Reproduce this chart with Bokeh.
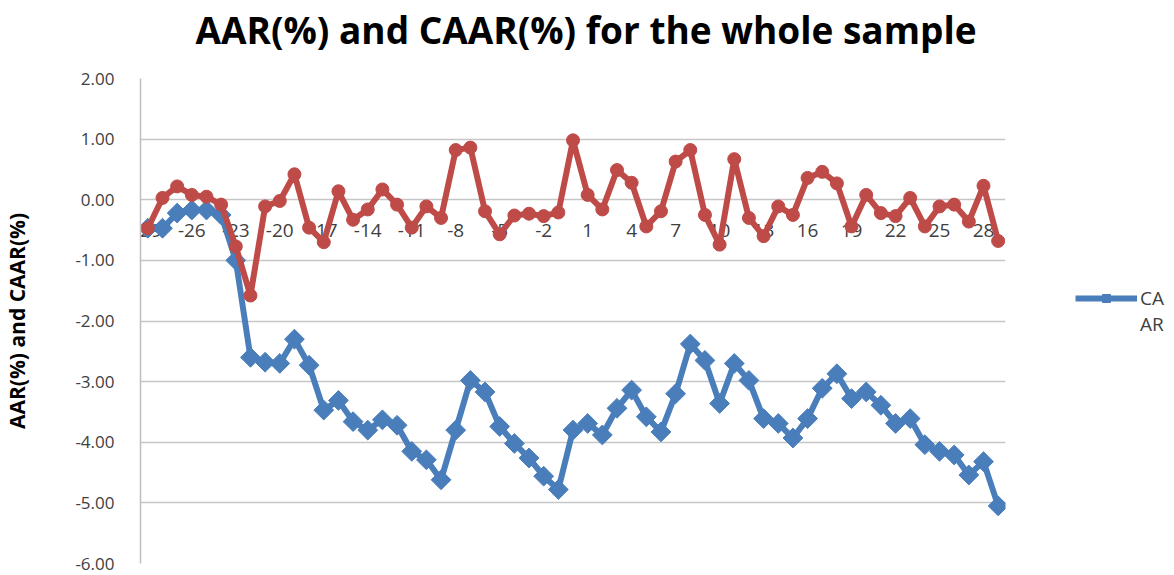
from bokeh.plotting import figure
from bokeh.models import (ColumnDataSource, NumeralTickFormatter, FixedTicker, Legend,
                          LegendItem, Range1d, Title)
from bokeh.core.properties import value
from bokeh.embed import file_html
from bokeh.resources import INLINE

days = list(range(-29, 30))
caar = [-0.47, -0.47, -0.22, -0.17, -0.17, -0.25, -1.00, -2.60, -2.68, -2.70,
        -2.30, -2.73, -3.47, -3.31, -3.66, -3.80, -3.63, -3.72, -4.15, -4.29,
        -4.62, -3.80, -2.98, -3.17, -3.74, -4.02, -4.26, -4.56, -4.78, -3.80,
        -3.69, -3.88, -3.44, -3.14, -3.58, -3.83, -3.20, -2.38, -2.65, -3.36,
        -2.70, -2.98, -3.61, -3.69, -3.93, -3.61, -3.11, -2.87, -3.28, -3.17,
        -3.39, -3.69, -3.61, -4.04, -4.15, -4.21, -4.54, -4.32, -5.05]
aar = [-0.47, 0.03, 0.22, 0.08, 0.05, -0.08, -0.77, -1.58, -0.11, -0.02,
       0.42, -0.46, -0.70, 0.14, -0.33, -0.16, 0.17, -0.08, -0.46, -0.11,
       -0.30, 0.82, 0.86, -0.19, -0.57, -0.26, -0.23, -0.27, -0.21, 0.98,
       0.08, -0.16, 0.49, 0.28, -0.44, -0.19, 0.63, 0.82, -0.25, -0.74,
       0.67, -0.30, -0.60, -0.11, -0.25, 0.36, 0.46, 0.27, -0.44, 0.08,
       -0.22, -0.27, 0.03, -0.44, -0.11, -0.08, -0.36, 0.23, -0.68]
tick_days = list(range(-29, 30, 3))
tick_labels = [str(d) for d in tick_days]
y_ticks = [-6, -5, -4, -3, -2, -1, 0, 1, 2]

FONT = "Open Sans"
BLUE = "#4A7EBB"
RED = "#BE4B48"
TXT = "#404040"

src = ColumnDataSource(dict(day=days, caar=caar, aar=aar))
tsrc = ColumnDataSource(dict(x=tick_days, y=[0] * len(tick_days), t=tick_labels))

p = figure(frame_width=865, frame_height=485, output_backend="svg", toolbar_location=None,
           title=None,
           x_range=Range1d(-29.5, 29.5), y_range=Range1d(-6, 2),
           min_border_left=140, min_border_right=169, min_border_top=78,
           min_border_bottom=12)
p.outline_line_color = None
p.background_fill_color = "white"
p.border_fill_color = "white"

# blank spacer between the frame and the title
spacer = Title(text=" ", text_font=FONT, text_font_size="14px", standoff=2)
p.add_layout(spacer, "above")

title = Title(text="AAR(%) and CAAR(%) for the whole sample", text_font=FONT,
              text_font_size="37px", text_font_style="bold", text_color="#000000",
              align="left", offset=55, standoff=2)
p.add_layout(title, "above")

p.xaxis.visible = False
p.xgrid.visible = False

p.yaxis.ticker = FixedTicker(ticks=y_ticks)
p.yaxis.formatter = NumeralTickFormatter(format="0.00")
p.yaxis.axis_label = "AAR(%) and CAAR(%)"
p.yaxis.axis_label_text_font = FONT
p.yaxis.axis_label_text_font_size = "21px"
p.yaxis.axis_label_text_font_style = "bold"
p.yaxis.axis_label_text_color = "#000000"
p.yaxis.axis_label_standoff = 41
p.yaxis.major_label_text_font = FONT
p.yaxis.major_label_text_font_size = "17px"
p.yaxis.major_label_text_color = TXT
p.yaxis.major_label_standoff = 26
p.yaxis.axis_line_color = "#BFBFBF"
p.yaxis.axis_line_width = 1.5
p.yaxis.major_tick_line_color = None
p.yaxis.minor_tick_line_color = None
p.yaxis.major_tick_out = 0
p.yaxis.major_tick_in = 0
p.yaxis.minor_tick_out = 0
p.yaxis.minor_tick_in = 0

p.ygrid.ticker = FixedTicker(ticks=y_ticks)
p.ygrid.grid_line_color = "#C6C6C6"
p.ygrid.grid_line_width = 1.5

# category labels sit on the zero line, under the series
p.text("x", "y", text="t", source=tsrc, text_font=value(FONT),
       text_font_size="19px", text_color=TXT, text_align="center",
       text_baseline="middle", y_offset=31)

bl = p.line("day", "caar", source=src, line_color=BLUE, line_width=6)
bs = p.scatter("day", "caar", source=src, marker="square", angle=0.785, size=14,
               fill_color=BLUE, line_color=BLUE)
p.line("day", "aar", source=src, line_color=RED, line_width=6)
p.scatter("day", "aar", source=src, marker="circle", size=13,
          fill_color=RED, line_color=RED)

dummy = p.line(x=[], y=[], line_alpha=0)

legend = Legend(items=[LegendItem(label="CA", renderers=[bl, bs]),
                       LegendItem(label="AR", renderers=[dummy])],
                location=(70, 226))
legend.glyph_width = 62
legend.glyph_height = 20
legend.label_height = 24
legend.spacing = 0
legend.label_text_font = FONT
legend.label_text_font_size = "19px"
legend.label_text_color = TXT
legend.label_standoff = 3
legend.border_line_color = None
legend.background_fill_alpha = 0
legend.padding = 0
legend.margin = 0
p.add_layout(legend, "right")

open("out.html", "w").write(file_html(p, INLINE))
